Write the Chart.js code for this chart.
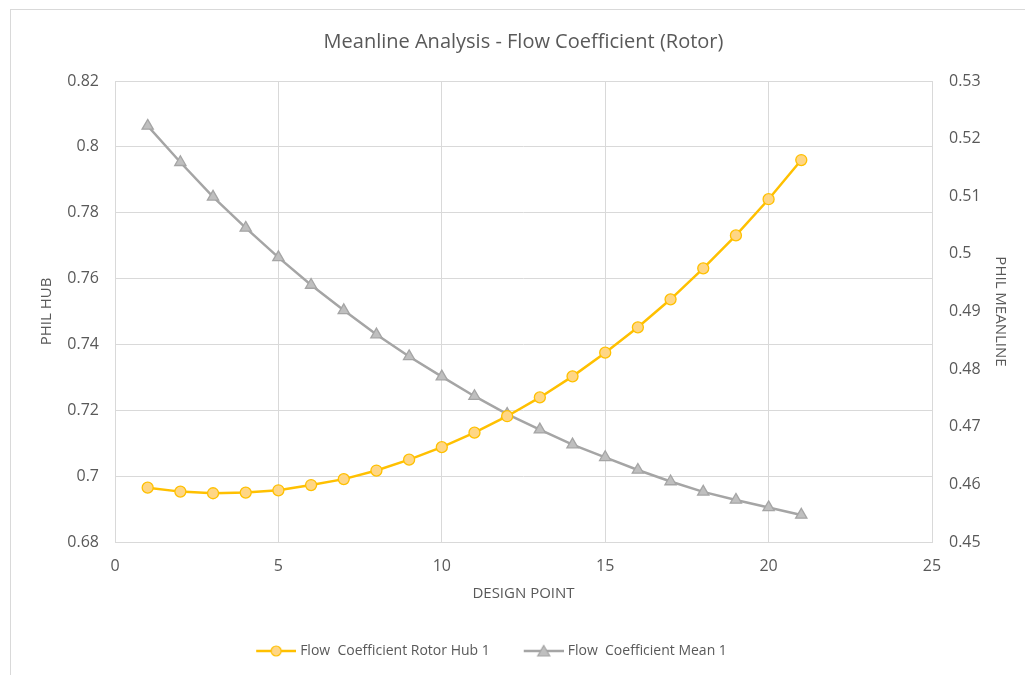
<!DOCTYPE html>
<html>
<head>
<meta charset="utf-8">
<title>Meanline Analysis - Flow Coefficient (Rotor)</title>
<script src="https://cdn.jsdelivr.net/npm/chart.js@4.4.1/dist/chart.umd.min.js"></script>
<style>
  html, body { margin: 0; padding: 0; background: #fff; overflow: hidden; }
  #frame { position: absolute; left: 10px; top: 9px; width: 1040px; height: 700px; border: 1px solid #d9d9d9; }
  #wrap { position: absolute; left: 0; top: 0; width: 1025px; height: 675px; }
</style>
</head>
<body>
<div id="frame"></div>
<div id="wrap"><canvas id="meanlineChart"></canvas></div>
<script>
// Design points (x axis)
const designPoints = [1, 2, 3, 4, 5, 6, 7, 8, 9, 10, 11, 12, 13, 14, 15, 16, 17, 18, 19, 20, 21];

// Flow Coefficient Rotor Hub 1 (left axis)
const hubValues = [0.6965, 0.6953, 0.6948, 0.6950, 0.6957, 0.6973, 0.6991, 0.7017, 0.7050, 0.7088,
    0.7132, 0.7182, 0.7239, 0.7303, 0.7375, 0.7452, 0.7537, 0.7631, 0.7731, 0.7841, 0.7960];

// Flow Coefficient Mean 1 (right axis)
const meanValues = [0.5222, 0.5159, 0.5099, 0.5045, 0.4994, 0.4946, 0.4902, 0.4860, 0.4822, 0.4787,
    0.4753, 0.4722, 0.4695, 0.4669, 0.4647, 0.4625, 0.4605, 0.4587, 0.4573, 0.4560, 0.4547];

const seriesNames = ['Flow  Coefficient Rotor Hub 1', 'Flow  Coefficient Mean 1'];

// axis ranges
const xRange = [0, 25, 5];
const hubRange = [0.68, 0.82, 0.02];
const meanRange = [0.45, 0.53, 0.01];

const textColor = '#595959';
const gridColor = '#d9d9d9';
const fontFamily = "'Open Sans', 'Liberation Sans', sans-serif";

// legend icon: line with the marker on it (transparent margin on the left for spacing)
function legendIcon(lineColor, fill, border, shape) {
    var m = 27;
    var c = document.createElement('canvas');
    c.width = m + 40; c.height = 14;
    var g = c.getContext('2d');
    g.strokeStyle = lineColor;
    g.lineWidth = 2.5;
    g.beginPath(); g.moveTo(m, 7); g.lineTo(m + 40, 7); g.stroke();
    g.fillStyle = fill;
    g.strokeStyle = border;
    g.lineWidth = 1.2;
    g.beginPath();
    if (shape == 'circle') {
        g.arc(m + 20, 7, 5, 0, Math.PI * 2);
    } else {
        g.moveTo(m + 20, 1.5); g.lineTo(m + 26, 12); g.lineTo(m + 14, 12); g.closePath();
    }
    g.fill(); g.stroke();
    return c;
}

const hubPoints = designPoints.map((x, i) => ({ x: x, y: hubValues[i] }));
const meanPoints = designPoints.map((x, i) => ({ x: x, y: meanValues[i] }));

const fmt = v => String(+Number(v).toFixed(4));

var ctx = document.getElementById('meanlineChart').getContext('2d');
var meanlineChart = new Chart(ctx, {
    type: 'line',
    data: {
        datasets: [{
            label: seriesNames[0],
            data: hubPoints,
            yAxisID: 'yHub',
            borderColor: '#ffc000',
            borderWidth: 2.5,
            backgroundColor: '#ffd685',
            pointBackgroundColor: '#ffd685',
            pointBorderColor: '#ffc000',
            pointBorderWidth: 1.3,
            pointStyle: 'circle',
            pointRadius: 5.5,
            tension: 0,
            legendIcon: legendIcon('#ffc000', '#ffd685', '#ffc000', 'circle')
        }, {
            label: seriesNames[1],
            data: meanPoints,
            yAxisID: 'yMean',
            borderColor: '#a5a5a5',
            borderWidth: 2.5,
            backgroundColor: '#bfbfbf',
            pointBackgroundColor: '#bfbfbf',
            pointBorderColor: '#a5a5a5',
            pointBorderWidth: 1.3,
            pointStyle: 'triangle',
            pointRadius: 6.5,
            tension: 0,
            legendIcon: legendIcon('#a5a5a5', '#bfbfbf', '#a5a5a5', 'triangle')
        }]
    },
    options: {
        responsive: true,
        maintainAspectRatio: false,
        animation: false,
        layout: { padding: { left: 38, right: 16, top: 0, bottom: 7 } },
        plugins: {
            title: {
                display: true,
                text: 'Meanline Analysis - Flow Coefficient (Rotor)',
                color: textColor,
                font: { family: fontFamily, size: 20, weight: 'normal' },
                padding: { top: 30, bottom: 27 }
            },
            legend: {
                position: 'bottom',
                labels: {
                    color: textColor,
                    font: { family: fontFamily, size: 14 },
                    usePointStyle: true,
                    pointStyleWidth: 61,
                    padding: 10,
                    generateLabels: function (chart) {
                        return chart.data.datasets.map((ds, i) => ({
                            text: ds.label,
                            pointStyle: ds.legendIcon,
                            fontColor: textColor,
                            lineWidth: 0,
                            strokeStyle: 'transparent',
                            fillStyle: 'transparent',
                            datasetIndex: i
                        }));
                    }
                }
            },
            tooltip: { enabled: false }
        },
        scales: {
            x: {
                type: 'linear',
                min: xRange[0], max: xRange[1],
                ticks: { stepSize: xRange[2], color: textColor, font: { family: fontFamily, size: 16 }, padding: 15 },
                grid: { color: gridColor, drawTicks: false },
                border: { display: false },
                title: { display: true, text: 'DESIGN POINT', color: textColor, font: { family: fontFamily, size: 15 }, padding: { top: 10, bottom: 31 } },
                afterFit: s => { s.height = 92; }
            },
            yHub: {
                type: 'linear',
                position: 'left',
                min: hubRange[0], max: hubRange[1],
                ticks: { stepSize: hubRange[2], color: textColor, font: { family: fontFamily, size: 16 }, padding: 16, callback: fmt },
                grid: { color: gridColor, drawTicks: false },
                border: { display: false },
                title: { display: true, text: 'PHIL HUB', color: textColor, font: { family: fontFamily, size: 15 }, padding: 0 },
                afterFit: s => { s.width = 77; }
            },
            yMean: {
                type: 'linear',
                position: 'right',
                min: meanRange[0], max: meanRange[1],
                ticks: { stepSize: meanRange[2], color: textColor, font: { family: fontFamily, size: 16 }, padding: 17, callback: fmt },
                grid: { display: false, drawTicks: false },
                border: { display: false },
                title: { display: true, text: 'PHIL MEANLINE', color: textColor, font: { family: fontFamily, size: 15 }, padding: 0 },
                afterFit: s => { s.width = 77; }
            }
        }
    },
    plugins: [{
        // plot frame, like the sheet chart
        id: 'plotFrame',
        beforeDatasetsDraw(chart) {
            const a = chart.chartArea;
            const g = chart.ctx;
            g.save();
            g.strokeStyle = gridColor;
            g.lineWidth = 1;
            g.strokeRect(Math.round(a.left) + 0.5, Math.round(a.top) + 0.5, Math.round(a.right - a.left), Math.round(a.bottom - a.top));
            g.restore();
        }
    }, {
        // the sheet legend sits a bit left of centre
        id: 'legendShift',
        afterLayout(chart) {
            chart.legend.left -= 44;
            chart.legend.right -= 44;
        }
    }]
});
</script>
</body>
</html>
